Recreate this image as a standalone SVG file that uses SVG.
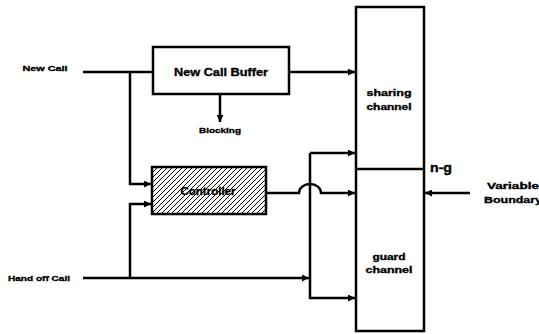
<svg xmlns="http://www.w3.org/2000/svg" width="539" height="334" viewBox="0 0 539 334">
<style>
.ln{fill:none;stroke:#000;stroke-width:2.5}
.box{fill:#fff;stroke:#000;stroke-width:2.5}
.t{font-family:"Liberation Sans",Arial,sans-serif;font-weight:bold;fill:#000;stroke:#000;stroke-width:0.35}
</style>
<defs>
<marker id="ah" viewBox="0 0 10 10" refX="10" refY="5" markerWidth="8" markerHeight="7" markerUnits="userSpaceOnUse" orient="auto">
<path d="M0,0 L10,5 L0,10 Z" fill="#000"/>
</marker>
<pattern id="hatch" width="5" height="5" patternUnits="userSpaceOnUse">
<path d="M-1,1 L1,-1 M0,5 L5,0 M4,6 L6,4" stroke="#000" stroke-width="1"/>
</pattern>
</defs>
<rect width="539" height="334" fill="#fff"/>
<g id="connectors">
<path class="ln" d="M83,72 H153"/>
<path class="ln" d="M130,72 V184 H151" marker-end="url(#ah)"/>
<path class="ln" d="M83,278 H309" marker-end="url(#ah)"/>
<path class="ln" d="M130,278 V204 H151" marker-end="url(#ah)"/>
<path class="ln" d="M289,72 H355" marker-end="url(#ah)"/>
<path class="ln" d="M220,94 V122" marker-end="url(#ah)"/>
<path class="ln" d="M310,153 H355" marker-end="url(#ah)"/>
<path class="ln" d="M310,153 V298 H355" marker-end="url(#ah)"/>
<path class="ln" d="M266,193 H299 A11,9 0 0 1 321,193 H355" marker-end="url(#ah)"/>
<path class="ln" d="M470,193 H425" marker-end="url(#ah)"/>
</g>
<g id="new-call">
<text class="t" x="45" y="71" font-size="8" text-anchor="middle" textLength="45" lengthAdjust="spacingAndGlyphs">New Call</text>
</g>
<g id="hand-off-call">
<text class="t" x="39" y="281" font-size="8" text-anchor="middle" textLength="62" lengthAdjust="spacingAndGlyphs">Hand off Call</text>
</g>
<g id="new-call-buffer">
<rect class="box" x="153" y="47" width="136" height="47"/>
<text class="t" x="221" y="76" font-size="11" text-anchor="middle" textLength="94" lengthAdjust="spacingAndGlyphs">New Call Buffer</text>
</g>
<g id="blocking">
<text class="t" x="220" y="133" font-size="8" text-anchor="middle" textLength="42" lengthAdjust="spacingAndGlyphs">Blocking</text>
</g>
<g id="controller">
<rect x="152" y="167" width="114" height="47" fill="url(#hatch)" stroke="#000" stroke-width="2.5"/>
<text class="t" x="208" y="195" font-size="11" text-anchor="middle" textLength="55" lengthAdjust="spacingAndGlyphs">Controller</text>
</g>
<g id="channel">
<rect class="box" x="356" y="7" width="68" height="324" fill="none"/>
<path class="ln" d="M356,169 H424"/>
<text class="t" x="389" y="96" font-size="9" text-anchor="middle" textLength="45" lengthAdjust="spacingAndGlyphs">sharing</text>
<text class="t" x="389" y="110" font-size="9" text-anchor="middle" textLength="45" lengthAdjust="spacingAndGlyphs">channel</text>
<text class="t" x="389" y="260" font-size="9" text-anchor="middle" textLength="33" lengthAdjust="spacingAndGlyphs">guard</text>
<text class="t" x="389" y="273" font-size="9" text-anchor="middle" textLength="47" lengthAdjust="spacingAndGlyphs">channel</text>
<text class="t" x="430" y="172" font-size="12" textLength="22" lengthAdjust="spacingAndGlyphs">n-g</text>
</g>
<g id="variable-boundary">
<text class="t" x="513" y="189" font-size="9" text-anchor="middle" textLength="52" lengthAdjust="spacingAndGlyphs">Variable</text>
<text class="t" x="513" y="203" font-size="9" text-anchor="middle" textLength="58" lengthAdjust="spacingAndGlyphs">Boundary</text>
</g>
</svg>
